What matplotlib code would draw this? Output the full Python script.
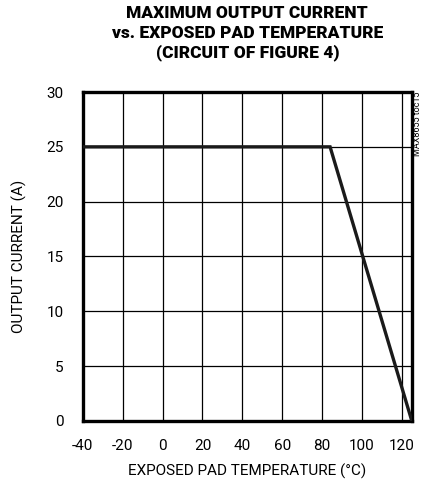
import matplotlib
matplotlib.use("Agg")
import matplotlib.pyplot as plt

# curve: flat at 25 A then derates to 0 A at 125 C
temp_c = [-40, 84, 125]
current_a = [25, 25, 0]

x_ticks = [-40, -20, 0, 20, 40, 60, 80, 100, 120]
y_ticks = [0, 5, 10, 15, 20, 25, 30]

plt.rcParams["font.family"] = ["Roboto", "DejaVu Sans"]
plt.rcParams["axes.unicode_minus"] = False

fig = plt.figure(figsize=(4.25, 4.82), dpi=100)
ax = fig.add_axes([0.195, 0.1266, 0.774, 0.6825])

ax.plot(temp_c, current_a, color="#1a1a1a", lw=2.4, solid_capstyle="butt",
        solid_joinstyle="miter", zorder=3)

ax.set_xlim(-40, 125)
ax.set_ylim(0, 30)
ax.set_xticks(x_ticks)
ax.set_yticks(y_ticks)
ax.grid(True, color="black", lw=0.9)
ax.tick_params(length=0, labelsize=11)
ax.tick_params(axis="x", pad=13)
ax.tick_params(axis="y", pad=14)
for s in ax.spines.values():
    s.set_linewidth(2.4)

ax.set_xlabel("EXPOSED PAD TEMPERATURE (°C)", fontsize=11, labelpad=8)
ax.set_ylabel("OUTPUT CURRENT (A)", fontsize=11, labelpad=14)

fig.text(0.582, 0.99,
         "MAXIMUM OUTPUT CURRENT\nvs. EXPOSED PAD TEMPERATURE\n(CIRCUIT OF FIGURE 4)",
         ha="center", va="top", fontsize=12.5, fontweight="heavy", linespacing=1.3)

ax.text(1.005, 1.0, "MAX8655 toc15", transform=ax.transAxes, rotation=90,
        ha="left", va="top", fontsize=6.5)

fig.savefig("out.png", dpi=100)
